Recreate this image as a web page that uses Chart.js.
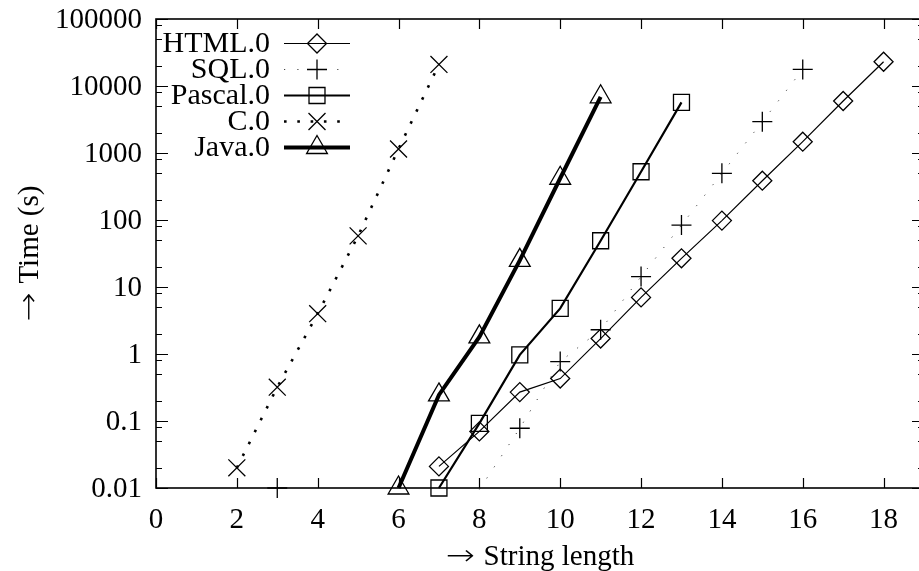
<!DOCTYPE html>
<html><head><meta charset="utf-8">
<script src="https://cdn.jsdelivr.net/npm/chart.js@4/dist/chart.umd.min.js"></script>
<style>html,body{margin:0;padding:0;overflow:hidden;background:#fff;width:919px;height:571px}canvas{display:block}</style>
</head><body>
<canvas id="c" width="940" height="571"></canvas>
<script>
const seriesNames = ['HTML.0', 'SQL.0', 'Pascal.0', 'C.0', 'Java.0'];
const htmlX = [7, 8, 9, 10, 11, 12, 13, 14, 15, 16, 17, 18];
const htmlY = [0.021, 0.07, 0.27, 0.43, 1.7, 7.0, 26.8, 98, 386, 1475, 5970, 23000];
const sqlX = [3, 4, 5, 6, 7, 8, 9, 10, 11, 12, 13, 14, 15, 16];
const sqlY = [0.01, null, null, null, null, 0.0095, 0.078, 0.77, 2.3, 14.3, 84, 498, 2930, 17700];
const pascalX = [7, 8, 9, 10, 11, 12, 13];
const pascalY = [0.01, 0.092, 0.97, 4.8, 49, 525, 5700];
const cX = [2, 3, 4, 5, 6, 7];
const cY = [0.02, 0.32, 4.0, 58, 1150, 21000];
const javaX = [6, 7, 8, 9, 10, 11];
const javaY = [0.01, 0.245, 1.8, 25, 420, 6900];
const xTickValues = [0, 2, 4, 6, 8, 10, 12, 14, 16, 18];
const xTickLabels = ['0', '2', '4', '6', '8', '10', '12', '14', '16', '18'];
const yTickValues = [0.01, 0.1, 1, 10, 100, 1000, 10000, 100000];
const yTickLabels = ['0.01', '0.1', '1', '10', '100', '1000', '10000', '100000'];
const yMinorFactors = [2, 5, 8];
const xTitleArrow = '→', xTitleText = 'String length';
const yTitleArrow = '→', yTitleText = 'Time (s)';

const FONT = '"Liberation Serif", "DejaVu Serif", serif';
function pts(xs, ys) { return xs.map((x, i) => ({ x: x, y: ys[i] })); }
const yMin = 0.01, yMax = 100000;

function ds(label, data, o) {
  return Object.assign({
    label: label, data: data, borderColor: '#000', pointBorderColor: '#000',
    pointBackgroundColor: 'rgba(0,0,0,0)', pointBorderWidth: 1.3, fill: false,
    tension: 0, clip: false, spanGaps: false, pointHoverRadius: 0
  }, o);
}

const datasets = [
  ds(seriesNames[0], pts(htmlX, htmlY), { borderWidth: 1.2, pointStyle: 'rectRot', pointRadius: 9.5 }),
  ds(seriesNames[1], pts(sqlX, sqlY), { borderWidth: 1, borderColor: '#444', borderDash: [1.2, 12.1], pointStyle: 'cross',
     pointRadius: (c) => (c.raw && c.raw.y !== null && c.raw.y < yMin) ? 0 : 10 }),
  ds(seriesNames[2], pts(pascalX, pascalY), { borderWidth: 2.2, pointStyle: 'rect', pointRadius: 11.3 }),
  ds(seriesNames[3], pts(cX, cY), { borderWidth: 2.6, borderDash: [2.6, 10.7], pointStyle: 'crossRot', pointRadius: 12 }),
  ds(seriesNames[4], pts(javaX, javaY), { borderWidth: 4, pointStyle: 'triangle', pointRadius: 12 })
];

function drawMarker(ctx, style, r, x, y) {
  if (Chart.helpers && Chart.helpers.drawPoint) {
    Chart.helpers.drawPoint(ctx, { pointStyle: style, radius: r, borderWidth: 1.3, rotation: 0 }, x, y);
  }
}

function arrowText(ctx, arrow, text, cx, cy, size) {
  const arrowFont = '200 ' + size + 'px "DejaVu Sans"';
  const textFont = size + 'px ' + FONT;
  ctx.font = arrowFont;
  const aw = ctx.measureText(arrow).width * 1.2;
  ctx.font = textFont;
  const sp = size * 0.3;
  const tw = ctx.measureText(text).width;
  const total = aw + sp + tw;
  let x0 = cx - total / 2;
  ctx.textAlign = 'left';
  ctx.save();
  ctx.font = arrowFont;
  ctx.translate(x0, cy);
  ctx.scale(1.2, 1);
  ctx.fillText(arrow, 0, 0);
  ctx.restore();
  ctx.font = textFont;
  ctx.fillText(text, x0 + aw + sp, cy);
}

const frame = {
  id: 'frame',
  afterDraw(chart) {
    const { ctx, chartArea: a, scales } = chart;
    const xs = scales.x, ys = scales.y;
    ctx.save();
    ctx.strokeStyle = '#000';
    ctx.fillStyle = '#000';
    ctx.lineWidth = 1.2;
    ctx.setLineDash([]);
    ctx.beginPath();
    xTickValues.forEach(v => {
      const px = Math.round(xs.getPixelForValue(v)) + 0.5;
      ctx.moveTo(px, a.bottom); ctx.lineTo(px, a.bottom - 10);
      ctx.moveTo(px, a.top); ctx.lineTo(px, a.top + 10);
    });
    yTickValues.forEach(v => {
      const py = Math.round(ys.getPixelForValue(v)) + 0.5;
      ctx.moveTo(a.left, py); ctx.lineTo(a.left + 12, py);
      ctx.moveTo(a.right, py); ctx.lineTo(a.right - 12, py);
    });
    yTickValues.forEach(v => {
      yMinorFactors.forEach(m => {
        const val = v * m;
        if (val >= yMax) return;
        const py = Math.round(ys.getPixelForValue(val)) + 0.5;
        ctx.moveTo(a.left, py); ctx.lineTo(a.left + 6, py);
        ctx.moveTo(a.right, py); ctx.lineTo(a.right - 6, py);
      });
    });
    ctx.stroke();
    ctx.lineWidth = 1.6;
    ctx.strokeRect(a.left, a.top, a.right - a.left, a.bottom - a.top);

    ctx.font = '29px ' + FONT;
    ctx.textBaseline = 'middle';
    ctx.textAlign = 'right';
    yTickValues.forEach((v, i) => ctx.fillText(yTickLabels[i], 142, ys.getPixelForValue(v) + 1));
    ctx.textAlign = 'center';
    xTickValues.forEach((v, i) => ctx.fillText(xTickLabels[i], xs.getPixelForValue(v), a.bottom + 32));
    arrowText(ctx, xTitleArrow, xTitleText, (a.left + a.right) / 2, 557, 29);
    ctx.save();
    ctx.translate(30, (a.top + a.bottom) / 2);
    ctx.rotate(-Math.PI / 2);
    arrowText(ctx, yTitleArrow, yTitleText, 0, 0, 29);
    ctx.restore();

    // legend
    ctx.font = '30px ' + FONT;
    chart.data.datasets.forEach((d, i) => {
      const ry = 43.5 + i * 26;
      ctx.textAlign = 'right';
      ctx.fillStyle = '#000';
      ctx.fillText(d.label, 270, ry + 1);
      ctx.save();
      ctx.strokeStyle = d.borderColor;
      ctx.lineWidth = d.borderWidth;
      ctx.setLineDash(d.borderDash || []);
      ctx.beginPath(); ctx.moveTo(284, ry); ctx.lineTo(350, ry); ctx.stroke();
      ctx.restore();
      ctx.save();
      ctx.strokeStyle = '#000';
      ctx.fillStyle = 'rgba(0,0,0,0)';
      ctx.lineWidth = 1.3;
      ctx.setLineDash([]);
      const r = typeof d.pointRadius === 'function' ? 10 : d.pointRadius;
      drawMarker(ctx, d.pointStyle, r, 317, ry);
      ctx.restore();
    });
    ctx.restore();
  }
};

new Chart(document.getElementById('c'), {
  type: 'line',
  data: { datasets: datasets },
  options: {
    responsive: false, animation: false, events: [],
    layout: { padding: { left: 156, top: 19, right: 16, bottom: 83 } },
    plugins: { legend: { display: false }, tooltip: { enabled: false } },
    scales: {
      x: { type: 'linear', min: 0, max: 19, display: false },
      y: { type: 'logarithmic', min: yMin, max: yMax, display: false }
    }
  },
  plugins: [frame]
});
</script>
</body></html>
